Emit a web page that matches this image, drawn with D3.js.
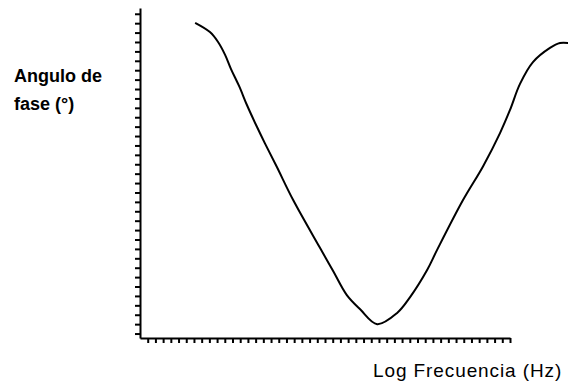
<!DOCTYPE html>
<html>
<head>
<meta charset="utf-8">
<script src="https://cdn.jsdelivr.net/npm/d3@7"></script>
<style>
  html, body { margin: 0; padding: 0; background: #fff; }
  svg { display: block; }
</style>
</head>
<body>
<svg id="chart" width="568" height="384"></svg>
<script>
// ---- data ----
// x: log frequency (arbitrary units, 0..100 = axis span), y: phase angle (arbitrary units)
const logFreq = [14.9, 18.9, 21.1, 23.0, 24.6, 26.8, 28.9, 31.6, 33.8, 37.0, 41.4, 48.6, 52.2, 55.9, 59.5, 64.1, 69.5, 73.0, 77.6, 80.3, 87.3, 92.7, 97.3, 100.0, 102.7, 106.2, 110.8, 113.5, 115.7];
const phase   = [95.5, 92.7, 89.7, 85.8, 81.5, 76.3, 70.6, 64.0, 58.9, 51.8, 41.8, 27.4, 20.3, 13.0, 8.7, 4.2, 7.6, 12.4, 20.6, 26.7, 41.8, 52.0, 62.1, 69.1, 77.0, 83.6, 87.9, 89.4, 89.4];
const xTickValues = d3.range(1, 49).map(i => i * 100 / 48);
const yTickValues = d3.range(35).map(j => 1.35 + j * 2.85);
const yLabelLines = ["Angulo de", "fase (°)"];
const xLabel = "Log Frecuencia (Hz)";

// ---- layout ----
const svg = d3.select("#chart");
const x = d3.scaleLinear().domain([0, 100]).range([140, 510]);
const y = d3.scaleLinear().domain([0, 100]).range([338, 8]);

const points = logFreq.map((v, i) => [v, phase[i]]);

// axes
const yAxis = d3.axisLeft(y).tickValues(yTickValues).tickSize(5).tickSizeOuter(0).tickFormat("");
const xAxis = d3.axisBottom(x).tickValues(xTickValues).tickSize(5).tickSizeOuter(0).tickFormat("");

const gy = svg.append("g").attr("transform", "translate(140,0)").call(yAxis);
const gx = svg.append("g").attr("transform", "translate(0,338)").call(xAxis);
[gy, gx].forEach(g => {
  g.select(".domain").attr("stroke", "#000").attr("stroke-width", 2);
  g.selectAll(".tick line").attr("stroke", "#000").attr("stroke-width", 2);
});

// curve
svg.append("path")
  .datum(points)
  .attr("fill", "none")
  .attr("stroke", "#000")
  .attr("stroke-width", 2)
  .attr("stroke-linejoin", "round")
  .attr("d", d3.line().x(d => x(d[0])).y(d => y(d[1])).curve(d3.curveCatmullRom.alpha(0.5)));

// labels
svg.append("text")
  .attr("x", 14).attr("y", 82)
  .attr("font-family", "Liberation Sans, Arial, sans-serif")
  .attr("font-size", 18).attr("font-weight", "bold")
  .selectAll("tspan").data(yLabelLines).join("tspan")
  .attr("x", 14).attr("dy", (d, i) => i === 0 ? 0 : 28)
  .text(d => d);

svg.append("text")
  .attr("x", 373).attr("y", 377)
  .attr("font-family", "Liberation Sans, Arial, sans-serif")
  .attr("font-size", 19).attr("letter-spacing", 0.9)
  .text(xLabel);
</script>
</body>
</html>
